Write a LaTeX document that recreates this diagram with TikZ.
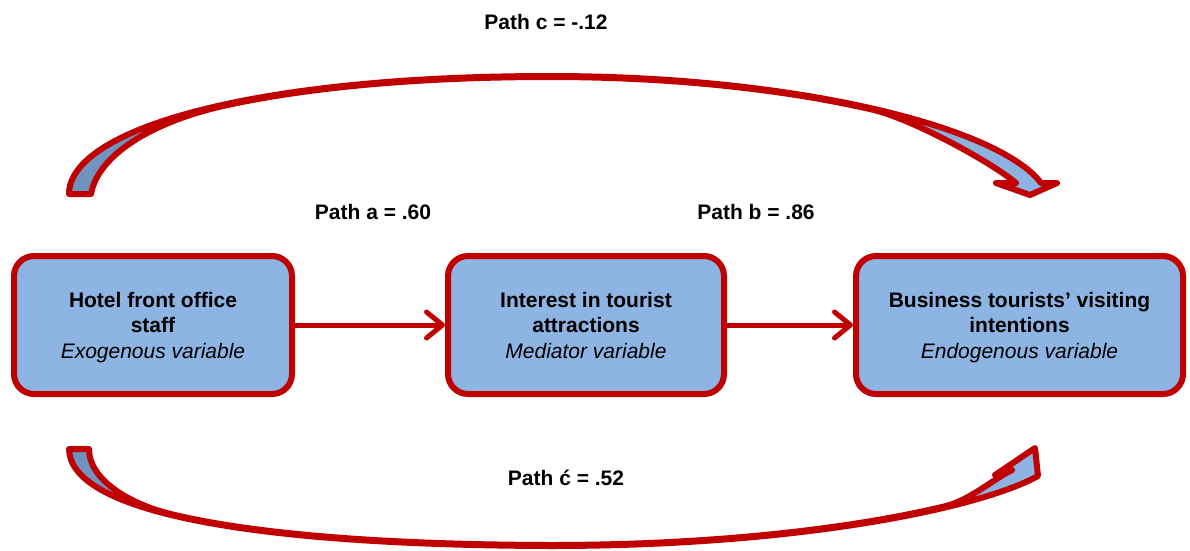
\documentclass[tikz,border=0pt]{standalone}
\usepackage{fontspec}
\setmainfont{Liberation Sans}
\usetikzlibrary{arrows.meta}
\definecolor{boxred}{RGB}{192,0,0}
\definecolor{boxblue}{RGB}{141,180,226}
\definecolor{shadeblue}{RGB}{112,146,190}
% fixed first-line height and last-line depth so all boxes share baselines
\newcommand{\toprule}{\rule{0pt}{20pt}}
\newcommand{\botrule}{\rule[-5pt]{0pt}{5pt}}
\begin{document}
\begin{tikzpicture}[x=1pt,y=-1pt,
  varbox/.style={draw=boxred, fill=boxblue, line width=6pt, rounded corners=20pt,
    align=center, font=\fontsize{21}{25.5}\selectfont, inner sep=0pt, minimum height=138pt},
  lbl/.style={font=\bfseries\fontsize{21}{25.5}\selectfont, inner sep=0pt, anchor=base},
  conn/.style={draw=boxred, line width=5pt,
    -{Straight Barb[length=16pt,width=26pt,line cap=round,line join=round]}},
  bendarrow/.style={draw=boxred, line width=6pt, line join=round,
    left color=shadeblue, right color=boxblue}
]
\useasboundingbox (0,0) rectangle (1190,550);

% variables
\node[varbox, minimum width=278pt] (exo) at (153,325)
  {\toprule\textbf{Hotel front office}\\\textbf{staff}\\\textit{Exogenous variable}\botrule};
\node[varbox, minimum width=276pt] (med) at (586,325)
  {\toprule\textbf{Interest in tourist}\\\textbf{attractions}\\\textit{Mediator variable}\botrule};
\node[varbox, minimum width=327pt] (endo) at (1019.5,325)
  {\toprule\textbf{Business tourists’ visiting}\\\textbf{intentions}\\\textit{Endogenous variable}\botrule};

% direct paths a and b
\draw[conn] (exo) -- (med);
\draw[conn] (med) -- (endo);

% path labels
\node[lbl] (pc) at (546,29) {Path c = -.12};
\node[lbl] (pa) at (373,219) {Path a = .60};
\node[lbl] (pb) at (756,219) {Path b = .86};
\node[lbl] (pcp) at (566,485) {Path ć = .52};

% upper curved block arrow (path c): outer rim, head, inner rim
\path[bendarrow] (69,194) .. controls (69,130) and (250,76) .. (550,76)
  .. controls (800,76) and (1000,128) .. (1041,183)
  -- (1057,183) -- (1030,195) -- (996,183) -- (1016,183)
  .. controls (991,162) and (914,120) .. (874,110)
  .. controls (787.5,90) and (675,77) .. (550,77)
  .. controls (415,77) and (304,88) .. (223,106)
  .. controls (152,122) and (98,155) .. (91,194) -- cycle;

% lower curved block arrow (path c'): outer rim, head, inner rim
\path[bendarrow] (69,449) .. controls (70,510) and (240,545) .. (550,546)
  .. controls (800,546) and (980,508) .. (1038,476)
  -- (1035,448) -- (995,475) -- (1012,470)
  .. controls (995,478) and (970,500) .. (946,506)
  .. controls (857.6,527.4) and (720,545) .. (550,545)
  .. controls (379.5,544.5) and (251,533.6) .. (170,513.8)
  .. controls (130,504) and (89,480) .. (89,449) -- cycle;
\end{tikzpicture}
\end{document}
